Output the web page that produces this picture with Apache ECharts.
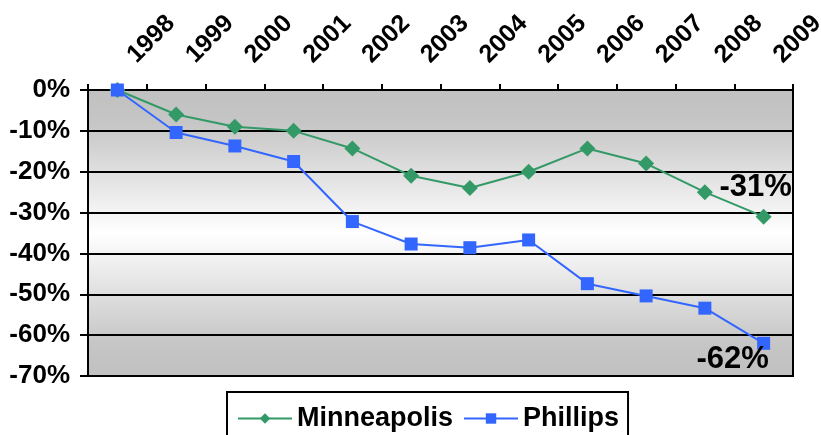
<!DOCTYPE html>
<html><head><meta charset="utf-8">
<script src="https://cdn.jsdelivr.net/npm/echarts@6/dist/echarts.min.js"></script>
<style>html,body{margin:0;padding:0;background:#fff}#c{width:821px;height:435px}</style>
</head><body><div id="c"></div>
<script>
const years = ['1998','1999','2000','2001','2002','2003','2004','2005','2006','2007','2008','2009'];
const minneapolis = [0, -6, -9, -10, -14.3, -21, -24, -20, -14.3, -18, -25, -31];
const phillips = [0, -10.4, -13.7, -17.5, -32.2, -37.7, -38.6, -36.7, -47.4, -50.4, -53.4, -62];
const yTicks = [0, -10, -20, -30, -40, -50, -60, -70];
const endLabels = ['-31%', '-62%'];

const font = 'Liberation Sans, Arial, sans-serif';
function withEndLabel(arr, text, offset) {
  return arr.map((v, i) => i === arr.length - 1 ? {
    value: v,
    label: { show: true, formatter: text, position: 'inside', offset: offset,
      fontFamily: font, fontWeight: 'bold', fontSize: 31, color: '#000' }
  } : v);
}
const chart = echarts.init(document.getElementById('c'), null, {renderer: 'canvas'});
chart.setOption({
  animation: false,
  grid: { left: 88, right: 28, top: 90, bottom: 59, show: true, borderColor: '#000', borderWidth: 2,
    outerBoundsMode: 'none', containLabel: false,
    backgroundColor: { type: 'linear', x: 0, y: 0, x2: 0, y2: 1, colorStops: [
      { offset: 0, color: '#c0c0c0' }, { offset: 0.12, color: '#c6c6c6' }, { offset: 0.5, color: '#ffffff' },
      { offset: 0.88, color: '#c6c6c6' }, { offset: 1, color: '#c0c0c0' }] } },
  xAxis: {
    type: 'category', position: 'top', data: years, boundaryGap: true,
    axisLine: { show: true, lineStyle: { color: '#000', width: 2 } },
    axisTick: { show: true, length: 6, lineStyle: { color: '#000', width: 2 } },
    axisLabel: { rotate: 45, margin: 17, padding: [0, 0, 0, 20], fontFamily: font, fontWeight: 'bold', fontSize: 25, color: '#000', interval: 0, hideOverlap: false },
    splitLine: { show: false }
  },
  yAxis: {
    type: 'value', min: -70, max: 0, interval: 10,
    axisLine: { show: true, lineStyle: { color: '#000', width: 2 } },
    axisTick: { show: true, length: 8, lineStyle: { color: '#000', width: 2 } },
    axisLabel: { margin: 18, fontFamily: font, fontWeight: 'bold', fontSize: 26, color: '#000',
      formatter: v => yTicks.includes(v) ? v + '%' : '' },
    splitLine: { show: true, lineStyle: { color: '#000', width: 2 } }
  },
  legend: {
    top: 392, left: 227, itemWidth: 54, itemHeight: 13, itemGap: 10,
    borderColor: '#000', borderWidth: 2, padding: [13, 9, 20, 10],
    textStyle: { fontFamily: font, fontWeight: 'bold', fontSize: 27, color: '#000' },
    data: ['Minneapolis', 'Phillips']
  },
  series: [
    { name: 'Minneapolis', type: 'line', data: withEndLabel(minneapolis, endLabels[0], [-8, -29]),
      color: '#339966', symbol: 'diamond', symbolSize: 16, lineStyle: { width: 2 } },
    { name: 'Phillips', type: 'line', data: withEndLabel(phillips, endLabels[1], [-31, 16]),
      color: '#3366FF', symbol: 'rect', symbolSize: 13, lineStyle: { width: 2 } }
  ]
});
</script></body></html>
